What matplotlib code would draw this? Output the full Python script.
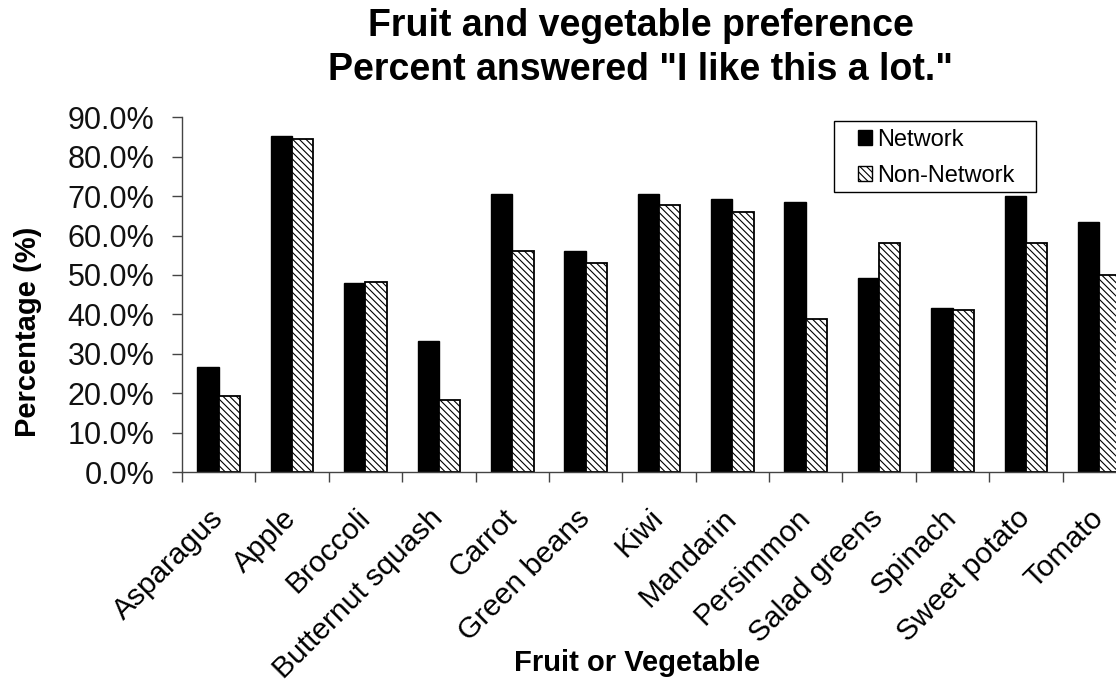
import numpy as np
import matplotlib
matplotlib.use("Agg")
import matplotlib.pyplot as plt
from matplotlib.patches import Patch, Rectangle

plt.rcParams['font.family'] = ['Liberation Sans', 'DejaVu Sans']
plt.rcParams['hatch.linewidth'] = 0.8

categories = ["Asparagus", "Apple", "Broccoli", "Butternut squash", "Carrot",
              "Green beans", "Kiwi", "Mandarin", "Persimmon", "Salad greens",
              "Spinach", "Sweet potato", "Tomato"]
network = [26.7, 85.3, 47.9, 33.3, 70.5, 56.0, 70.5, 69.2, 68.4, 49.2, 41.5, 70.0, 63.4]
non_network = [19.3, 84.6, 48.2, 18.3, 56.2, 53.0, 67.7, 66.0, 38.7, 58.0, 41.1, 58.0, 50.0]
yticks = np.arange(0, 91, 10)

W, H = 1116, 684
fig = plt.figure(figsize=(W / 100, H / 100), dpi=100)
ax = fig.add_axes([182 / W, 212 / H, (1136 - 182) / W, (472 - 117.3) / H])

x = np.arange(len(categories))
w = 0.29
ax.bar(x - w / 2, network, w, color="black", edgecolor="black", linewidth=1.0)
ax.bar(x + w / 2, non_network, w, color="white", edgecolor="black",
       linewidth=1.3, hatch="\\\\\\\\\\")

ax.set_xlim(-0.5, len(categories) - 0.5)
ax.set_ylim(0, 90)
ax.set_yticks(yticks)
ax.set_yticklabels(["%.1f%%" % v for v in yticks])
ax.set_xticks(x)
ax.set_xticklabels(categories, rotation=45, ha="right", va="center",
                   rotation_mode="anchor")
ax.set_xticks(np.arange(-0.5, len(categories), 1), minor=True)

ax.tick_params(axis="y", labelsize=22, length=7, width=1, color="#444444",
               pad=13, labelcolor="#111111")
ax.tick_params(axis="x", which="major", labelsize=21.5, length=0, pad=30)
ax.tick_params(axis="x", which="minor", length=7, width=1, color="#444444")

for s in ["top", "right"]:
    ax.spines[s].set_visible(False)
for s in ["left", "bottom"]:
    ax.spines[s].set_color("#444444")
    ax.spines[s].set_linewidth(1)

fig.text(641 / W, 1 - 36 / H, "Fruit and vegetable preference",
         ha="center", va="baseline", fontsize=27, fontweight="bold")
fig.text(641 / W, 1 - 80 / H, 'Percent answered "I like this a lot."',
         ha="center", va="baseline", fontsize=27, fontweight="bold")
fig.text(28 / W, 1 - 332 / H, "Percentage (%)", rotation=90,
         ha="center", va="center", fontsize=21, fontweight="bold")
fig.text(637 / W, 1 - 663 / H, "Fruit or Vegetable",
         ha="center", va="center", fontsize=21, fontweight="bold")

# legend frame drawn separately, Excel style box
fig.patches.append(Rectangle((834 / W, 1 - 192 / H), (1036 - 834) / W, (192 - 121) / H,
                             transform=fig.transFigure, fill=False,
                             edgecolor="black", linewidth=1))
handles = [Patch(facecolor="black", edgecolor="black"),
           Patch(facecolor="white", edgecolor="black", hatch="\\\\\\\\\\")]
leg = fig.legend(handles, ["Network", "Non-Network"], loc="upper left",
                 bbox_to_anchor=(858 / W, 1 - 129 / H), fontsize=17,
                 frameon=False, handlelength=0.6, handleheight=0.6,
                 handletextpad=0.2, borderpad=0, labelspacing=0.6,
                 borderaxespad=0)

fig.savefig("out.png", dpi=100)
